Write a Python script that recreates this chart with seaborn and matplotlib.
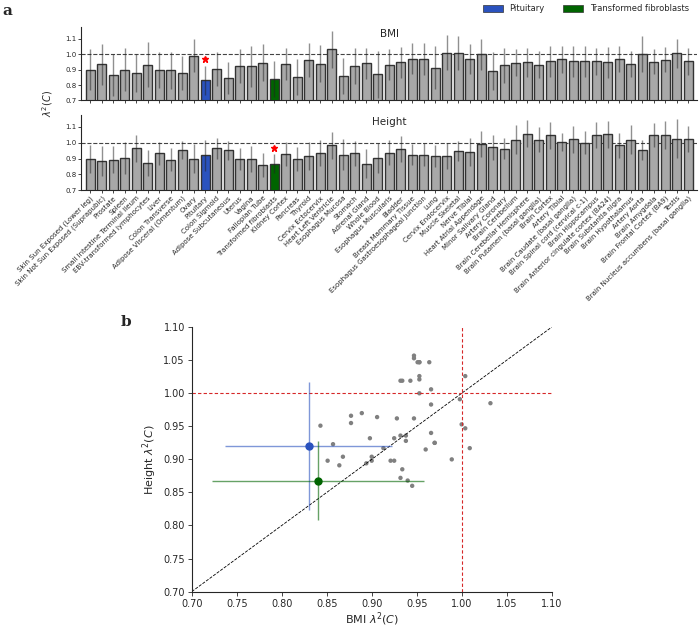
import pandas as pd
import matplotlib
matplotlib.use("Agg")
import matplotlib.pyplot as plt
import seaborn as sns
from matplotlib.patches import Patch

# tissues in plotting order
tissues = [
    "Skin Sun Exposed (Lower leg)", "Skin Not Sun Exposed (Suprapubic)", "Prostate", "Spleen",
    "Small Intestine Terminal Ileum", "EBV-transformed lymphocytes", "Liver", "Colon Transverse",
    "Adipose Visceral (Omentum)", "Ovary", "Pituitary", "Colon Sigmoid", "Adipose Subcutaneous",
    "Uterus", "Vagina", "Fallopian Tube", "Transformed fibroblasts", "Kidney Cortex", "Pancreas",
    "Thyroid", "Cervix Ectocervix", "Heart Left Ventricle", "Esophagus Mucosa", "Stomach",
    "Adrenal Gland", "Whole Blood", "Esophagus Muscularis", "Bladder", "Breast Mammary Tissue",
    "Esophagus Gastroesophageal Junction", "Lung", "Cervix Endocervix", "Muscle Skeletal",
    "Nerve Tibial", "Heart Atrial Appendage", "Minor Salivary Gland", "Artery Coronary",
    "Brain Cerebellum", "Brain Cerebellar Hemisphere", "Brain Putamen (basal ganglia)",
    "Brain Cortex", "Artery Tibial", "Brain Caudate (basal ganglia)",
    "Brain Spinal cord (cervical c-1)", "Brain Hippocampus",
    "Brain Anterior cingulate cortex (BA24)", "Brain Substantia nigra", "Brain Hypothalamus",
    "Artery Aorta", "Brain Amygdala", "Brain Frontal Cortex (BA9)", "Testis",
    "Brain Nucleus accumbens (basal ganglia)",
]

bmi = [0.900, 0.934, 0.864, 0.900, 0.877, 0.932, 0.898, 0.894, 0.877, 0.989,
       0.830, 0.906, 0.843, 0.925, 0.921, 0.945, 0.840, 0.938, 0.851, 0.960,
       0.938, 1.032, 0.857, 0.925, 0.940, 0.868, 0.932, 0.947, 0.970, 0.970,
       0.913, 1.009, 1.004, 0.966, 0.998, 0.889, 0.928, 0.943, 0.947, 0.932,
       0.953, 0.966, 0.953, 0.953, 0.953, 0.947, 0.966, 0.934, 1.000, 0.951,
       0.964, 1.004, 0.953]
bmi_err = [0.135, 0.133, 0.136, 0.140, 0.124, 0.143, 0.117, 0.121, 0.109, 0.106,
           0.093, 0.110, 0.104, 0.110, 0.134, 0.122, 0.118, 0.103, 0.117, 0.109,
           0.119, 0.120, 0.115, 0.117, 0.100, 0.150, 0.098, 0.100, 0.100, 0.104,
           0.138, 0.113, 0.110, 0.098, 0.098, 0.123, 0.113, 0.087, 0.092, 0.089,
           0.098, 0.087, 0.100, 0.098, 0.089, 0.100, 0.085, 0.085, 0.117, 0.079,
           0.083, 0.092, 0.087]
height = [0.898, 0.885, 0.891, 0.904, 0.966, 0.872, 0.932, 0.894, 0.955, 0.900,
          0.920, 0.964, 0.951, 0.898, 0.898, 0.860, 0.868, 0.928, 0.898, 0.915,
          0.936, 0.985, 0.923, 0.932, 0.868, 0.904, 0.936, 0.962, 0.925, 0.925,
          0.917, 0.917, 0.947, 0.940, 0.991, 0.970, 0.962, 1.019, 1.057, 1.019,
          1.047, 1.006, 1.021, 1.000, 1.047, 1.053, 0.983, 1.019, 0.953, 1.047,
          1.047, 1.026, 1.026]
height_err = [0.090, 0.094, 0.085, 0.102, 0.085, 0.085, 0.072, 0.074, 0.055, 0.090,
              0.097, 0.067, 0.060, 0.071, 0.080, 0.074, 0.060, 0.074, 0.075, 0.090,
              0.081, 0.085, 0.098, 0.080, 0.090, 0.096, 0.078, 0.083, 0.067, 0.072,
              0.071, 0.082, 0.062, 0.087, 0.082, 0.077, 0.066, 0.092, 0.085, 0.080,
              0.085, 0.056, 0.085, 0.072, 0.083, 0.085, 0.078, 0.092, 0.063, 0.076,
              0.087, 0.122, 0.082]

highlight = {"Pituitary": "#2a52be", "Transformed fibroblasts": "#006400"}
star_bmi = "Pituitary"
star_height = "Transformed fibroblasts"

df = pd.DataFrame({"tissue": tissues, "bmi": bmi, "bmi_err": bmi_err,
                   "height": height, "height_err": height_err})
palette = {t: highlight.get(t, "#a8a8a8") for t in tissues}

sns.set_style("ticks")
fig = plt.figure(figsize=(7, 6.28), dpi=100)

ax1 = fig.add_axes([0.116, 0.840, 0.880, 0.117])
ax2 = fig.add_axes([0.116, 0.697, 0.880, 0.120])

for ax, col, title, star in [(ax1, "bmi", "BMI", star_bmi), (ax2, "height", "Height", star_height)]:
    sns.barplot(data=df, x="tissue", y=col, hue="tissue", palette=palette, order=tissues,
                legend=False, saturation=1, width=0.8, edgecolor="#333333", linewidth=1, ax=ax)
    ax.errorbar(range(len(tissues)), df[col], yerr=df[col + "_err"], fmt="none",
                ecolor="#222222", alpha=0.5, elinewidth=1, zorder=5)
    ax.axhline(1.0, color="#444444", ls="--", lw=0.8, zorder=0.5)
    si = tissues.index(star)
    ax.plot(si, 0.965, marker="*", color="red", ms=5, zorder=6)
    ax.set_ylim(0.7, 1.175)
    ax.set_xlim(-0.78, len(tissues) - 0.22)
    ax.set_yticks([0.7, 0.8, 0.9, 1.0, 1.1])
    ax.set_yticklabels(["0.7", "0.8", "0.9", "1.0", "1.1"], fontsize=5)
    ax.tick_params(axis="both", length=2, width=0.6, pad=1.5)
    ax.set_xlabel("")
    ax.set_ylabel("")
    ax.text(0.5, 0.9, title, transform=ax.transAxes, ha="center", va="center", fontsize=7.5)
    sns.despine(ax=ax)

ax1.set_xticklabels([])
ax2.set_xticklabels(tissues, rotation=45, ha="right", rotation_mode="anchor", fontsize=5)

fig.text(0.068, 0.835, r"$\lambda^2(C)$", rotation=90, ha="center", va="center", fontsize=7)

handles = [Patch(facecolor=c, edgecolor="#333333", lw=0.5, label=t) for t, c in highlight.items()]
fig.legend(handles=handles, loc="upper right", bbox_to_anchor=(0.995, 1.005), ncol=2,
           frameon=False, fontsize=6, handlelength=2.4, handleheight=0.8, columnspacing=2.2)

fig.text(0.003, 0.982, "a", fontsize=11, fontweight="bold", family="DejaVu Serif", va="center")
fig.text(0.172, 0.487, "b", fontsize=11, fontweight="bold", family="DejaVu Serif", va="center")

# panel b
ax3 = fig.add_axes([0.274, 0.058, 0.514, 0.421])
others = df[~df["tissue"].isin(highlight)]
sns.scatterplot(data=others, x="bmi", y="height", color="gray", s=10, edgecolor="none", ax=ax3)
for t, c in highlight.items():
    r = df[df["tissue"] == t].iloc[0]
    ax3.errorbar(r["bmi"], r["height"], xerr=r["bmi_err"], yerr=r["height_err"], fmt="none",
                 ecolor=c, alpha=0.6, elinewidth=1, zorder=3)
    ax3.plot(r["bmi"], r["height"], "o", color=c, ms=5, zorder=4)
ax3.plot([0.7, 1.1], [0.7, 1.1], color="black", ls="--", lw=0.6)
ax3.axhline(1.0, color="#d62728", ls="--", lw=0.8, dashes=(3, 2))
ax3.axvline(1.0, color="#d62728", ls="--", lw=0.8, dashes=(3, 2))
ax3.set_xlim(0.7, 1.1)
ax3.set_ylim(0.7, 1.1)
ticks = [0.70, 0.75, 0.80, 0.85, 0.90, 0.95, 1.00, 1.05, 1.10]
ax3.set_xticks(ticks)
ax3.set_yticks(ticks)
ax3.set_xticklabels([f"{v:.2f}" for v in ticks], fontsize=7)
ax3.set_yticklabels([f"{v:.2f}" for v in ticks], fontsize=7)
ax3.tick_params(length=3, width=0.6, pad=2)
ax3.set_xlabel(r"BMI $\lambda^2(C)$", fontsize=8, labelpad=1)
ax3.set_ylabel(r"Height $\lambda^2(C)$", fontsize=8, labelpad=3)
sns.despine(ax=ax3)

fig.savefig("out.png", dpi=100)
